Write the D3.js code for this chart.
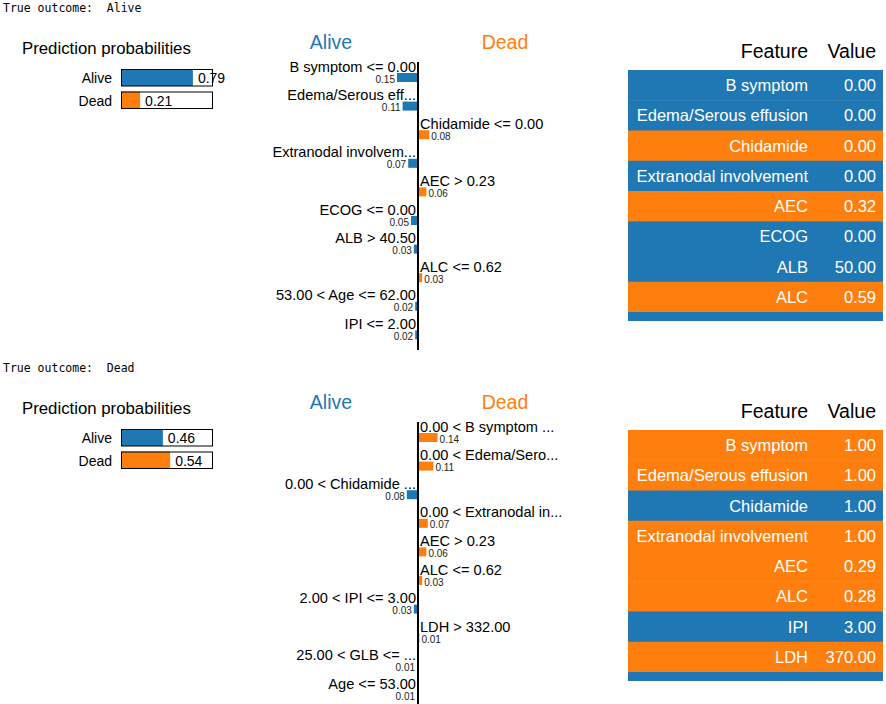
<!DOCTYPE html>
<html>
<head>
<meta charset="utf-8">
<script src="https://cdn.jsdelivr.net/npm/d3@7"></script>
<style>
  body { margin: 0; background: #fff; }
  text { font-family: "Liberation Sans", Arial, sans-serif; }
  .mono { font-family: "DejaVu Sans Mono", monospace; }
</style>
</head>
<body>
<div id="vis"></div>
<script>
/********************************************************************
Datos: dos casos explicados con LIME
*********************************************************************/

const classNames = ["Alive", "Dead"];

// Caso 1
const trueOutcome1 = "Alive";
const probs1 = [0.79, 0.21];
const features1 = ["B symptom <= 0.00", "Edema/Serous eff...", "Chidamide <= 0.00",
    "Extranodal involvem...", "AEC > 0.23", "ECOG <= 0.00", "ALB > 40.50",
    "ALC <= 0.62", "53.00 < Age <= 62.00", "IPI <= 2.00"];
const weights1 = [-0.15, -0.11, 0.08, -0.07, 0.06, -0.05, -0.03, 0.03, -0.02, -0.02];
// La tabla solo muestra las primeras filas (la última queda cortada)
const tableNames1 = ["B symptom", "Edema/Serous effusion", "Chidamide", "Extranodal involvement",
    "AEC", "ECOG", "ALB", "ALC", "Age"];
const tableValues1 = ["0.00", "0.00", "0.00", "0.00", "0.32", "0.00", "50.00", "0.59", "58.00"];

// Caso 2
const trueOutcome2 = "Dead";
const probs2 = [0.46, 0.54];
const features2 = ["0.00 < B symptom ...", "0.00 < Edema/Sero...", "0.00 < Chidamide ...",
    "0.00 < Extranodal in...", "AEC > 0.23", "ALC <= 0.62", "2.00 < IPI <= 3.00",
    "LDH > 332.00", "25.00 < GLB <= ...", "Age <= 53.00"];
const weights2 = [0.14, 0.11, -0.08, 0.07, 0.06, 0.03, -0.03, 0.01, -0.007, -0.007];
const tableNames2 = ["B symptom", "Edema/Serous effusion", "Chidamide", "Extranodal involvement",
    "AEC", "ALC", "IPI", "LDH", "GLB"];
const tableValues2 = ["1.00", "1.00", "1.00", "1.00", "0.29", "0.28", "3.00", "370.00", "30.00"];

/********************************************************************
Constantes
*********************************************************************/
const WIDTH = 886;
const HEIGHT = 704;
const BLUE = "#1f77b4";
const ORANGE = "#ff7f0e";
const color = w => (w < 0 ? BLUE : ORANGE);

const svg = d3.select("#vis")
    .append("svg")
    .attr("width", WIDTH)
    .attr("height", HEIGHT);

// Escalas compartidas
const probScale = d3.scaleLinear().domain([0, 1]).range([121, 212]);
const axisX = 418;
const weightScale = d3.scaleLinear().domain([-1, 1]).range([axisX - 140, axisX + 140]);
const rowStep = 28.6;

/********************************************************************
Función que dibuja un panel completo
*********************************************************************/
function drawPanel(offsetY, outcome, probs, features, weights, tableNames, tableValues, idx) {
    const g = svg.append("g").attr("transform", `translate(0, ${offsetY})`);

    // Texto del resultado verdadero
    g.append("text")
        .attr("class", "mono")
        .attr("x", 3)
        .attr("y", 12)
        .attr("font-size", "11.5px")
        .style("white-space", "pre")
        .attr("xml:space", "preserve")
        .text(`True outcome:  ${outcome}`);

    // Probabilidades de predicción
    g.append("text")
        .attr("x", 22)
        .attr("y", 54)
        .attr("font-size", "16.8px")
        .text("Prediction probabilities");

    const probRows = g.selectAll(".prob")
        .data(classNames.map((c, i) => ({ c, p: probs[i], i })))
        .enter()
        .append("g")
        .attr("transform", d => `translate(0, ${69 + d.i * 22.5})`);

    probRows.append("rect")
        .attr("x", probScale(0))
        .attr("width", d => probScale(d.p) - probScale(0))
        .attr("height", 17)
        .attr("fill", d => (d.i === 0 ? BLUE : ORANGE));

    probRows.append("rect")
        .attr("x", probScale(0) + 0.5)
        .attr("y", 0.5)
        .attr("width", probScale(1) - probScale(0))
        .attr("height", 16.5)
        .attr("fill", "none")
        .attr("stroke", "#000")
        .attr("stroke-width", 1);

    probRows.append("text")
        .attr("x", 112)
        .attr("y", 14)
        .attr("text-anchor", "end")
        .attr("font-size", "14px")
        .text(d => d.c);

    probRows.append("text")
        .attr("x", d => probScale(d.p) + 5)
        .attr("y", 14)
        .attr("font-size", "14px")
        .text(d => d.p.toFixed(2));

    // Explicación: barras de pesos
    g.append("text")
        .attr("x", 331)
        .attr("y", 49)
        .attr("text-anchor", "middle")
        .attr("font-size", "19.5px")
        .attr("fill", BLUE)
        .text("Alive");

    g.append("text")
        .attr("x", 505)
        .attr("y", 49)
        .attr("text-anchor", "middle")
        .attr("font-size", "19.5px")
        .attr("fill", ORANGE)
        .text("Dead");

    const yScale = d3.scaleBand()
        .domain(d3.range(features.length))
        .range([62, 62 + features.length * rowStep]);

    const rows = g.selectAll(".feat")
        .data(features.map((f, i) => ({ f, w: weights[i], i })))
        .enter()
        .append("g")
        .attr("transform", d => `translate(0, ${yScale(d.i)})`);

    rows.append("rect")
        .attr("x", d => Math.min(weightScale(d.w), weightScale(0)))
        .attr("y", 11)
        .attr("width", d => Math.abs(weightScale(d.w) - weightScale(0)))
        .attr("height", 9)
        .attr("fill", d => color(d.w));

    rows.append("text")
        .attr("x", d => (d.w < 0 ? axisX - 2 : axisX + 2))
        .attr("y", 9.5)
        .attr("text-anchor", d => (d.w < 0 ? "end" : "start"))
        .attr("font-size", "14.6px")
        .text(d => d.f);

    rows.append("text")
        .attr("x", d => (d.w < 0 ? weightScale(d.w) - 2 : weightScale(d.w) + 2))
        .attr("y", 20.5)
        .attr("text-anchor", d => (d.w < 0 ? "end" : "start"))
        .attr("font-size", "10px")
        .attr("fill", "#222")
        .text(d => Math.abs(d.w).toFixed(2));

    g.append("line")
        .attr("x1", axisX)
        .attr("x2", axisX)
        .attr("y1", 62)
        .attr("y2", 62 + features.length * rowStep + 2)
        .attr("stroke", "#000")
        .attr("stroke-width", 2);

    // Tabla de valores
    g.append("text")
        .attr("x", 808)
        .attr("y", 58)
        .attr("text-anchor", "end")
        .attr("font-size", "19.5px")
        .text("Feature");

    g.append("text")
        .attr("x", 876)
        .attr("y", 58)
        .attr("text-anchor", "end")
        .attr("font-size", "19.5px")
        .text("Value");

    const clipId = `clip${idx}`;
    g.append("clipPath")
        .attr("id", clipId)
        .append("rect")
        .attr("x", 628)
        .attr("y", 70)
        .attr("width", 255)
        .attr("height", 251);

    const tableStep = 30.25;
    const table = g.append("g").attr("clip-path", `url(#${clipId})`);

    const tRows = table.selectAll(".trow")
        .data(tableNames.map((n, i) => ({ n, v: tableValues[i], w: weights[i], i })))
        .enter()
        .append("g")
        .attr("transform", d => `translate(0, ${70 + d.i * tableStep})`);

    tRows.append("rect")
        .attr("x", 628)
        .attr("width", 255)
        .attr("height", tableStep + 0.5)
        .attr("fill", d => color(d.w));

    tRows.append("text")
        .attr("x", 808)
        .attr("y", tableStep / 2 + 6)
        .attr("text-anchor", "end")
        .attr("font-size", "16.5px")
        .attr("fill", "#fff")
        .text(d => d.n);

    tRows.append("text")
        .attr("x", 876)
        .attr("y", tableStep / 2 + 6)
        .attr("text-anchor", "end")
        .attr("font-size", "16.5px")
        .attr("fill", "#fff")
        .text(d => d.v);
}

/********************************************************************
Main
*********************************************************************/
drawPanel(0, trueOutcome1, probs1, features1, weights1, tableNames1, tableValues1, 1);
drawPanel(360, trueOutcome2, probs2, features2, weights2, tableNames2, tableValues2, 2);
</script>
</body>
</html>
